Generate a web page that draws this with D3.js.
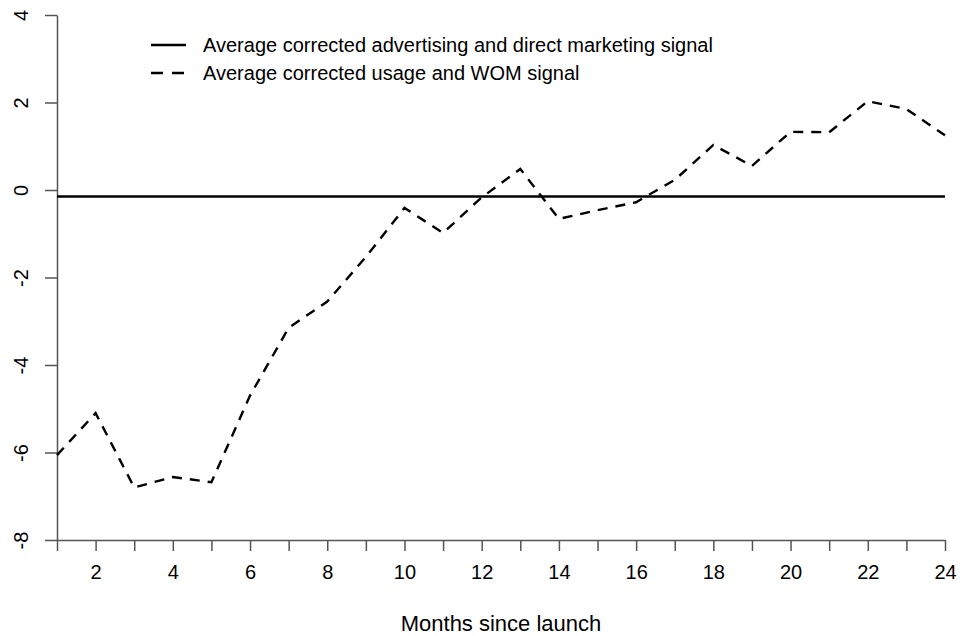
<!DOCTYPE html>
<html>
<head>
<meta charset="utf-8">
<script src="https://cdn.jsdelivr.net/npm/d3@7"></script>
<style>
  html, body { margin: 0; padding: 0; background: #fff; }
  svg text { font-family: "Liberation Sans", Arial, sans-serif; fill: #000; }
</style>
</head>
<body>
<svg id="chart" width="960" height="636"></svg>
<script>
// Months since launch
const months = d3.range(1, 25);
// Average corrected usage and WOM signal (dashed)
const womSignal = [-6.06, -5.1, -6.8, -6.56, -6.68, -4.7, -3.15, -2.55, -1.53, -0.41, -0.98, -0.17,
                   0.48, -0.66, -0.46, -0.28, 0.23, 1.03, 0.55, 1.33, 1.32, 2.03, 1.85, 1.25];
// Average corrected advertising and direct marketing signal (solid, constant)
const adSignal = months.map(() => -0.15);
const yTicks = [-8, -6, -4, -2, 0, 2, 4];
const xLabelTicks = [2, 4, 6, 8, 10, 12, 14, 16, 18, 20, 22, 24];
const legendLabels = ["Average corrected advertising and direct marketing signal",
                      "Average corrected usage and WOM signal"];
const xTitle = "Months since launch";

const svg = d3.select("#chart");
const plotLeft = 57, plotRight = 945, plotTop = 15, plotBottom = 540;

const x = d3.scaleLinear().domain([1, 24]).range([plotLeft, plotRight]);
const y = d3.scaleLinear().domain([-8, 4]).range([plotBottom, plotTop]);

const axisColor = "#555";
const dash = "10,8";

// Y axis with rotated labels (plain hyphen for negatives)
const yAxis = svg.append("g").attr("transform", `translate(${plotLeft},0)`)
  .call(d3.axisLeft(y).tickValues(yTicks).tickSize(12).tickSizeOuter(0)
    .tickFormat(d => String(d)));
yAxis.select(".domain").attr("stroke", axisColor).attr("stroke-width", 1.5);
yAxis.selectAll(".tick line").attr("stroke", axisColor).attr("stroke-width", 1.5);
yAxis.selectAll(".tick text")
  .attr("font-size", 20)
  .attr("fill", "#000")
  .attr("text-anchor", "middle")
  .attr("transform", "rotate(-90)")
  .attr("x", 0)
  .attr("y", -36)
  .attr("dy", "0.35em");

// X axis: ticks every month, labels on even months
const xAxis = svg.append("g").attr("transform", `translate(0,${plotBottom})`)
  .call(d3.axisBottom(x).tickValues(months).tickSize(11).tickSizeOuter(0).tickPadding(14)
    .tickFormat(d => xLabelTicks.includes(d) ? String(d) : ""));
xAxis.select(".domain").attr("stroke", axisColor).attr("stroke-width", 1.5);
xAxis.selectAll(".tick line").attr("stroke", axisColor).attr("stroke-width", 1.5);
xAxis.selectAll(".tick text").attr("font-size", 20).attr("fill", "#000");

// Axis title
svg.append("text")
  .attr("x", (plotLeft + plotRight) / 2).attr("y", 631)
  .attr("text-anchor", "middle").attr("font-size", 22)
  .text(xTitle);

const line = d3.line().x((d, i) => x(months[i])).y(d => y(d));

// Advertising signal
svg.append("path").datum(adSignal)
  .attr("d", line).attr("fill", "none")
  .attr("stroke", "#000").attr("stroke-width", 2.4);

// WOM signal
svg.append("path").datum(womSignal)
  .attr("d", line).attr("fill", "none")
  .attr("stroke", "#000").attr("stroke-width", 2.4)
  .attr("stroke-dasharray", dash);

// Legend
const legend = svg.append("g");
const rows = [{ label: legendLabels[0], dash: null, yy: 45 },
              { label: legendLabels[1], dash: "12,9", yy: 73 }];
rows.forEach(r => {
  legend.append("line")
    .attr("x1", 151).attr("x2", 186).attr("y1", r.yy).attr("y2", r.yy)
    .attr("stroke", "#000").attr("stroke-width", 2.4)
    .attr("stroke-dasharray", r.dash);
  legend.append("text")
    .attr("x", 203).attr("y", r.yy).attr("dy", "0.35em")
    .attr("font-size", 20)
    .text(r.label);
});
</script>
</body>
</html>
